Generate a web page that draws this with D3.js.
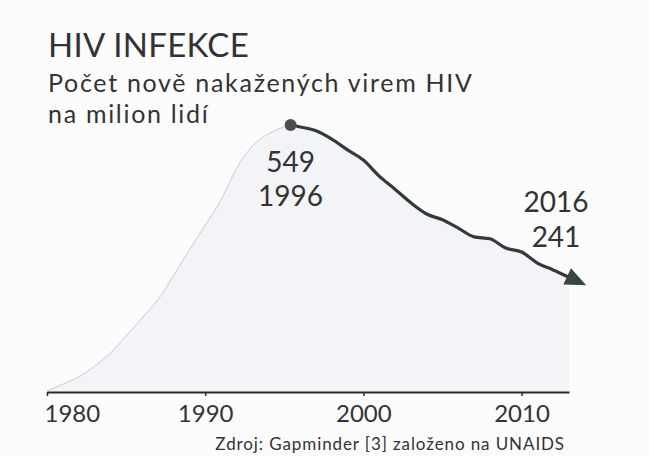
<!DOCTYPE html>
<html>
<head>
<meta charset="utf-8">
<script src="https://cdn.jsdelivr.net/npm/d3@7"></script>
<style>
  body { margin: 0; background: #fcfcfc; }
  svg { display: block; font-family: Lato, "Open Sans", sans-serif; }
</style>
</head>
<body>
<script>
// Data
var riseYears = [1980, 1981, 1982, 1983, 1984, 1985, 1986, 1987, 1988, 1989, 1990, 1991, 1992, 1993, 1994, 1995];
var riseValues = [2, 16, 31, 53, 80, 115, 152, 189, 239, 292, 343, 395, 461, 506, 531, 545];
var peakYear = 1995.4;
var peakValue = 549;
var fallYears = [1996, 1997, 1998, 1999, 2000, 2001, 2002, 2003, 2004, 2005, 2006, 2007, 2008, 2009, 2010, 2011, 2012, 2013];
var fallValues = [545, 537, 520, 498, 477, 444, 417, 389, 366, 354, 337, 319, 315, 296, 288, 265, 251, 236];
var tickYears = [1980, 1990, 2000, 2010];
var peakLabel = ["549", "1996"];
var endLabel = ["2016", "241"];

var width = 649;
var height = 456;

var svg = d3.select("body")
  .append("svg")
  .attr("width", width)
  .attr("height", height);

// Scales
var x = d3.scaleLinear().domain([1980, 2013]).range([47, 569]);
var y = d3.scaleLinear().domain([0, peakValue]).range([392, 125]);

// Build point lists
var rise = riseYears.map(function(d, i) { return {year: d, value: riseValues[i]}; });
rise.push({year: peakYear, value: peakValue});
var fall = [{year: peakYear, value: peakValue}].concat(fallYears.map(function(d, i) {
  return {year: d, value: fallValues[i]};
}));
var all = rise.concat(fall.slice(1));

// Area under the whole curve
var area = d3.area()
  .x(function(d) { return x(d.year); })
  .y0(y(0))
  .y1(function(d) { return y(d.value); })
  .curve(d3.curveMonotoneX);

svg.append("path")
  .datum(all)
  .attr("d", area)
  .attr("fill", "#f3f4f7");

var line = d3.line()
  .x(function(d) { return x(d.year); })
  .y(function(d) { return y(d.value); })
  .curve(d3.curveMonotoneX);

// Faint rising line
svg.append("path")
  .datum(rise)
  .attr("d", line)
  .attr("fill", "none")
  .attr("stroke", "#cacaca")
  .attr("stroke-width", 1);

// Arrow head
svg.append("defs").append("marker")
  .attr("id", "arrow")
  .attr("markerUnits", "userSpaceOnUse")
  .attr("markerWidth", 30)
  .attr("markerHeight", 30)
  .attr("viewBox", "-5 -15 30 30")
  .attr("refX", 2)
  .attr("refY", 0)
  .attr("orient", "auto")
  .append("path")
  .attr("d", "M0,-9L21,0L0,9Z")
  .attr("fill", "#3a4542");

// Dark falling line
svg.append("path")
  .datum(fall)
  .attr("d", line)
  .attr("fill", "none")
  .attr("stroke", "#343a39")
  .attr("stroke-width", 3.2)
  .attr("stroke-linejoin", "round")
  .attr("marker-end", "url(#arrow)");

// Peak dot
svg.append("circle")
  .attr("cx", x(peakYear))
  .attr("cy", y(peakValue))
  .attr("r", 6)
  .attr("fill", "#4a4e4e");

// Axis
var axis = d3.axisBottom(x)
  .tickValues(tickYears)
  .tickFormat(d3.format("d"))
  .tickSize(4)
  .tickSizeOuter(0)
  .tickPadding(9);

var gx = svg.append("g")
  .attr("transform", "translate(0," + y(0) + ")")
  .call(axis);

gx.select(".domain").attr("stroke", "#2b2b2b").attr("stroke-width", 2);
gx.selectAll(".tick line").attr("stroke", "#2b2b2b").attr("stroke-width", 1.5);
gx.selectAll(".tick text")
  .attr("fill", "#333")
  .style("font-size", "24px")
  .style("font-family", "Lato, sans-serif");
gx.select(".tick text").attr("text-anchor", "start").attr("dx", -3);

// Annotations
var textColor = "#333";

svg.selectAll(".peak-label")
  .data(peakLabel)
  .enter()
  .append("text")
  .attr("class", "peak-label")
  .attr("x", x(peakYear))
  .attr("y", function(d, i) { return y(peakValue) + 47 + i * 34; })
  .attr("text-anchor", "middle")
  .attr("fill", textColor)
  .style("font-size", "28px")
  .text(function(d) { return d; });

var last = fall[fall.length - 1];
svg.selectAll(".end-label")
  .data(endLabel)
  .enter()
  .append("text")
  .attr("class", "end-label")
  .attr("x", x(last.year) - 13)
  .attr("y", function(d, i) { return y(last.value) - 65 + i * 35; })
  .attr("text-anchor", "middle")
  .attr("fill", textColor)
  .style("font-size", "28px")
  .text(function(d) { return d; });

// Titles
svg.append("text")
  .attr("x", 48)
  .attr("y", 57)
  .attr("fill", textColor)
  .style("font-size", "33px")
  .style("letter-spacing", "0.3px")
  .text("HIV INFEKCE");

svg.append("text")
  .attr("x", 48)
  .attr("y", 92)
  .attr("fill", textColor)
  .style("font-size", "25px")
  .style("letter-spacing", "1.7px")
  .text("Počet nově nakažených virem HIV");

svg.append("text")
  .attr("x", 48)
  .attr("y", 123)
  .attr("fill", textColor)
  .style("font-size", "25px")
  .style("letter-spacing", "1.7px")
  .text("na milion lidí");

// Source
svg.append("text")
  .attr("x", 565)
  .attr("y", 450)
  .attr("text-anchor", "end")
  .attr("fill", textColor)
  .style("font-size", "17px")
  .style("letter-spacing", "0.9px")
  .text("Zdroj: Gapminder [3] založeno na UNAIDS");
</script>
</body>
</html>
